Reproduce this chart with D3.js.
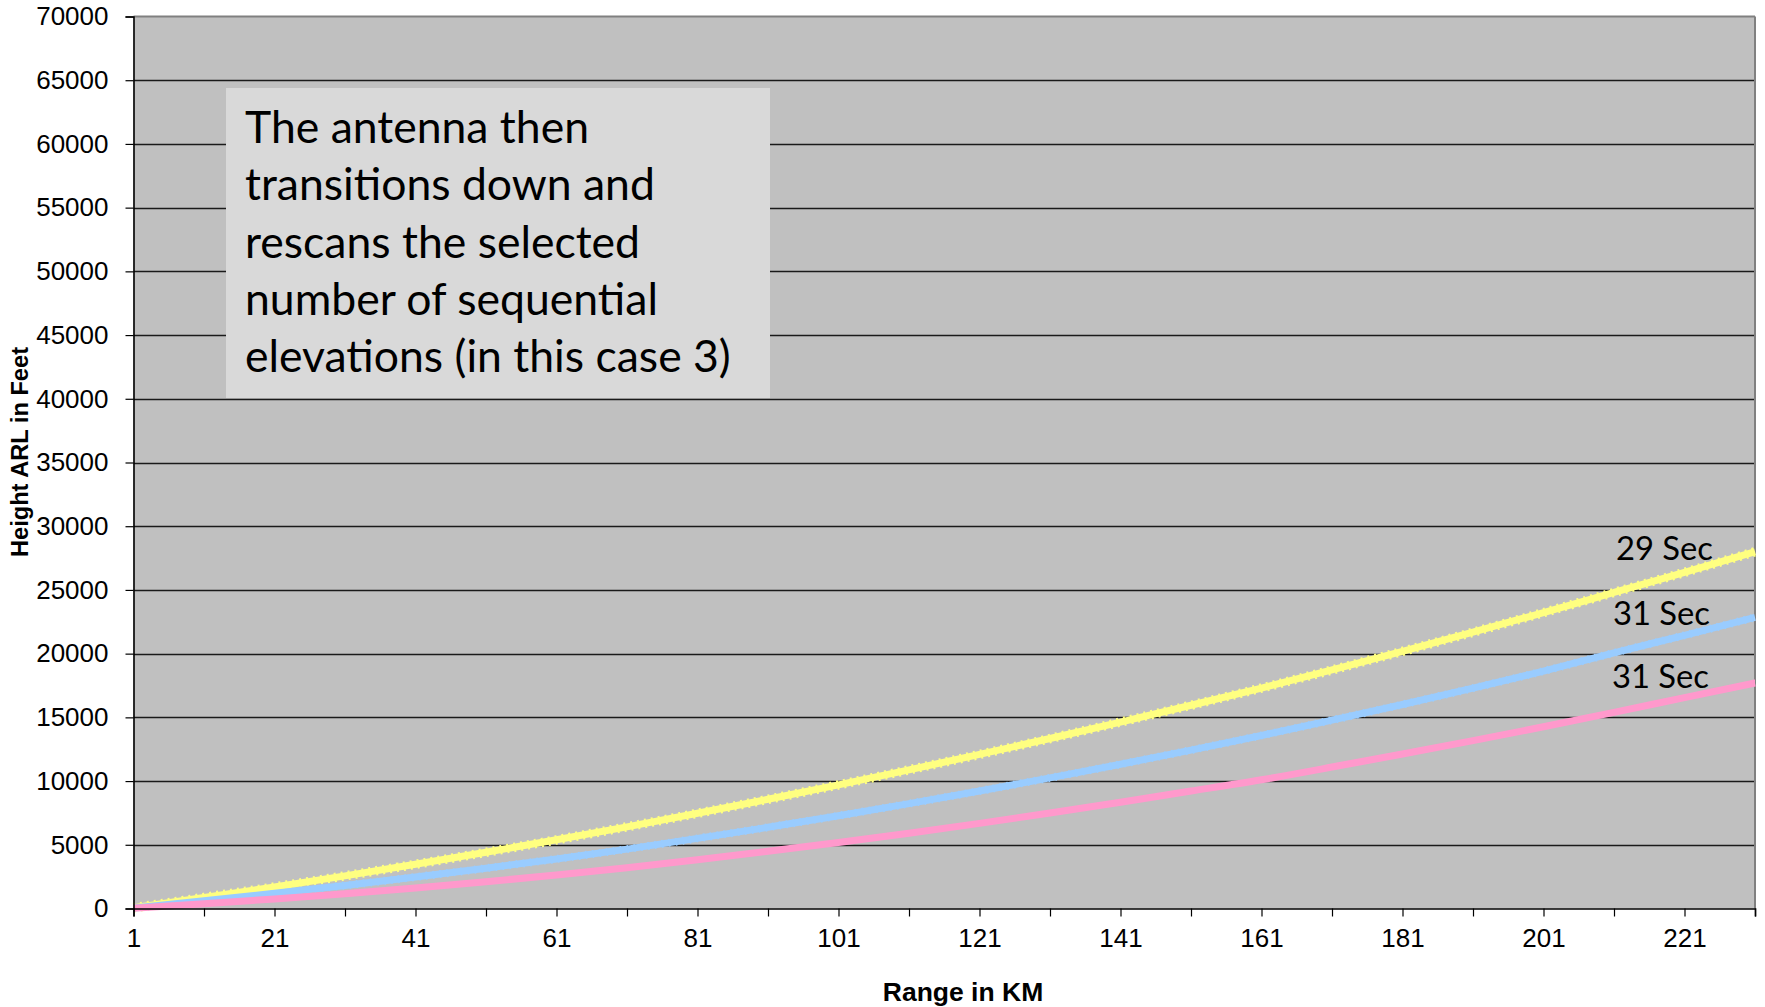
<!DOCTYPE html>
<html><head><meta charset="utf-8">
<script src="https://cdn.jsdelivr.net/npm/d3@7"></script>
<style>body{margin:0;background:#fff}svg{display:block}</style>
</head><body>
<svg id="c" width="1765" height="1007"></svg>
<script>
// ---- data ----
const rangeKm   = [1, 11, 21, 31, 41, 51, 61, 71, 81, 91, 101, 111, 121, 131, 141, 151, 161, 171, 181, 191, 201, 211, 221, 231];
const sec29     = [60, 870, 1690, 2560, 3470, 4410, 5390, 6410, 7470, 8570, 9700, 10880, 12090, 13340, 14630, 15950, 17300, 18720, 20180, 21680, 23220, 24800, 26380, 28000];
const sec31a    = [40, 600, 1190, 1810, 2470, 3160, 3890, 4660, 5500, 6370, 7280, 8230, 9220, 10250, 11320, 12430, 13580, 14780, 16010, 17290, 18630, 20060, 21440, 22850];
const sec31b    = [20, 370, 750, 1160, 1610, 2100, 2630, 3200, 3830, 4490, 5180, 5910, 6680, 7490, 8340, 9220, 10100, 11100, 12120, 13170, 14260, 15390, 16550, 17700];
const seriesNames  = ["29 Sec", "31 Sec", "31 Sec"];
const seriesColors = ["#ffff80", "#99ccff", "#ff99cc"];
const xTickValues  = [1, 11, 21, 31, 41, 51, 61, 71, 81, 91, 101, 111, 121, 131, 141, 151, 161, 171, 181, 191, 201, 211, 221, 231];
const xTickLabels  = ["1", "21", "41", "61", "81", "101", "121", "141", "161", "181", "201", "221"];
const yTickValues  = [0, 5000, 10000, 15000, 20000, 25000, 30000, 35000, 40000, 45000, 50000, 55000, 60000, 65000, 70000];
const noteLines = ["The antenna then", "transitions down and", "rescans the selected", "number of sequential", "elevations (in this case 3)"];
const xTitle = "Range in KM";
const yTitle = "Height ARL in Feet";

// ---- layout ----
const L = 133.5, R = 1755, T = 16.5, B = 908.5;
const svg = d3.select("#c");
const x = d3.scaleLinear().domain([1, 231]).range([L, R]);
const y = d3.scaleLinear().domain([0, 70000]).range([B, T]);

// plot background
svg.append("rect").attr("x", L).attr("y", T).attr("width", R - L).attr("height", B - T).attr("fill", "#c0c0c0");

// gridlines
svg.append("g").selectAll("line").data(yTickValues.filter(v => v > 0 && v < 70000)).join("line")
  .attr("x1", L).attr("x2", R)
  .attr("y1", d => Math.round(y(d)) + 0.5).attr("y2", d => Math.round(y(d)) + 0.5)
  .attr("stroke", "#1a1a1a").attr("stroke-width", 1.4);

// border top & right (gray)
svg.append("line").attr("x1", L).attr("x2", R).attr("y1", T).attr("y2", T).attr("stroke", "#808080").attr("stroke-width", 2);
svg.append("line").attr("x1", R).attr("x2", R).attr("y1", T).attr("y2", B).attr("stroke", "#808080").attr("stroke-width", 2);

// note box
const note = svg.append("g");
note.append("rect").attr("x", 226).attr("y", 88).attr("width", 544).attr("height", 310).attr("fill", "#d9d9d9");
const noteText = note.append("text").attr("font-family", "Lato, 'Noto Sans', sans-serif").attr("font-size", 40).attr("fill", "#000");
noteText.selectAll("tspan").data(noteLines).join("tspan")
  .attr("x", 245).attr("y", (d, i) => 143 + i * 57.3).text(d => d);
{
  const last = noteText.selectAll("tspan").nodes()[4];
  const w = last.getComputedTextLength();
  noteText.attr("font-size", 40 * 486 / w);
}

// lines
const line = d3.line().x((d, i) => x(rangeKm[i])).y(d => y(d)).curve(d3.curveNatural);
const allSeries = [sec29, sec31a, sec31b];
const widths = [7, 7, 7];
// serrated edge for yellow
svg.append("path").attr("d", line(sec29)).attr("fill", "none").attr("stroke", seriesColors[0])
  .attr("stroke-width", 9.5).attr("stroke-dasharray", "2 5");
svg.append("path").attr("d", line(sec31a)).attr("fill", "none").attr("stroke", seriesColors[1])
  .attr("stroke-width", 8).attr("stroke-dasharray", "1.5 5.5");
allSeries.forEach((s, k) => {
  svg.append("path").attr("d", line(s)).attr("fill", "none")
    .attr("stroke", seriesColors[k]).attr("stroke-width", widths[k]).attr("stroke-linejoin", "round");
});

// series labels
const labelOffsets = [[-139, 8], [-142, 8], [-143, 5]];
const labs = svg.append("g").attr("font-family", "Lato, 'Noto Sans', sans-serif").attr("font-size", 36).attr("fill", "#000");
allSeries.forEach((s, k) => {
  labs.append("text").attr("x", x(231) + labelOffsets[k][0]).attr("y", y(s[s.length - 1]) + labelOffsets[k][1]).text(seriesNames[k]);
});
{
  const n = labs.select("text").node();
  const w = n.getComputedTextLength();
  labs.attr("font-size", 36 * 97 / w);
}

// axes
const yAxis = d3.axisLeft(y).tickValues(yTickValues).tickSize(8).tickPadding(17).tickFormat(d => String(d));
const gy = svg.append("g").attr("transform", `translate(${L},0)`).call(yAxis);
gy.select(".domain").attr("stroke", "#000").attr("stroke-width", 1.6);
gy.selectAll(".tick line").attr("stroke", "#000").attr("stroke-width", 1.2);
gy.selectAll(".tick text").attr("font-family", "'Liberation Sans', Arial, sans-serif").attr("font-size", 26).attr("fill", "#000");

const xAxis = d3.axisBottom(x).tickValues(xTickValues).tickSize(8).tickPadding(12)
  .tickFormat(d => xTickLabels.includes(String(d)) ? String(d) : "");
const gx = svg.append("g").attr("transform", `translate(0,${B})`).call(xAxis);
gx.select(".domain").attr("stroke", "#000").attr("stroke-width", 1.6);
gx.selectAll(".tick line").attr("stroke", "#000").attr("stroke-width", 1.2);
gx.selectAll(".tick text").attr("font-family", "'Liberation Sans', Arial, sans-serif").attr("font-size", 26).attr("fill", "#000");

// titles
svg.append("text").attr("x", 963).attr("y", 1001).attr("text-anchor", "middle")
  .attr("font-family", "'Liberation Sans', Arial, sans-serif").attr("font-weight", "bold").attr("font-size", 26.5).text(xTitle);
svg.append("text").attr("transform", "translate(28,452) rotate(-90)").attr("text-anchor", "middle")
  .attr("font-family", "'Liberation Sans', Arial, sans-serif").attr("font-weight", "bold").attr("font-size", 24)
  .attr("textLength", 210).attr("lengthAdjust", "spacingAndGlyphs").text(yTitle);
</script>
</body></html>
